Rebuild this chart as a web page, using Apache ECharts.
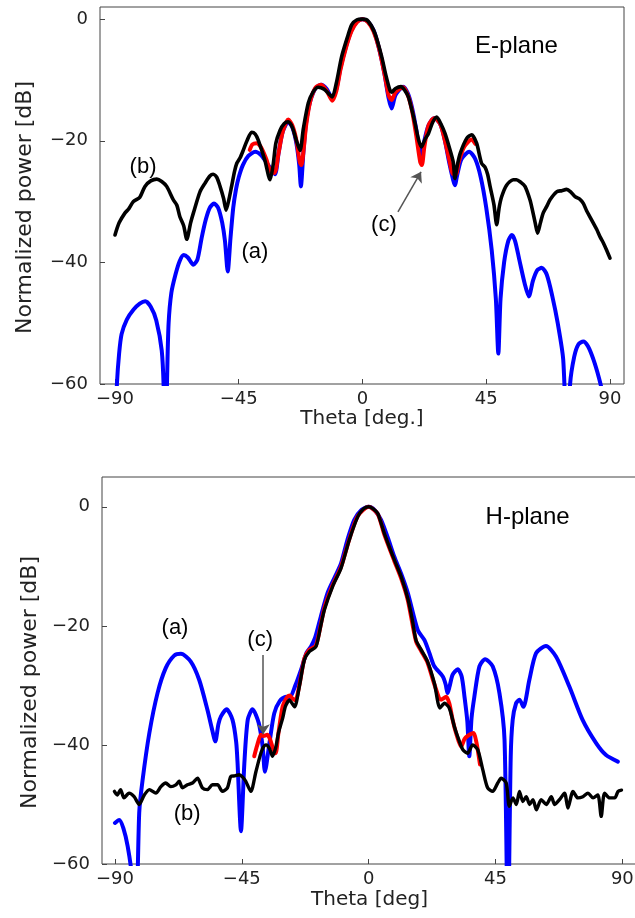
<!DOCTYPE html>
<html>
<head>
<meta charset="utf-8">
<script src="https://cdn.jsdelivr.net/npm/echarts@6/dist/echarts.min.js"></script>
<style>
html,body{margin:0;padding:0;background:#fff;}
#chart{width:635px;height:918px;}
</style>
</head>
<body>
<div id="chart"></div>
<script>
// ---------- tick labels ----------
const xTicks = [-90, -45, 0, 45, 90];
const yTicks = [-60, -40, -20, 0];

// ---------- E-plane: (a) simulation ----------
const eSimTheta = [-90,-89.3,-88.5,-87.6,-85.7,-83.3,-81,-79,-77,-75,-73,-72.2,-71.8,-71,-70.5,-69.5,-68,-66.5,-65,-63.5,-61.5,-60,-58.5,-57,-55.5,-54,-52.5,-51,-50,-49,-48,-47,-46,-45,-43.5,-41.5,-39,-37,-35,-33,-31.8,-30.5,-29,-27,-25.5,-24,-23,-22.4,-21.5,-20.5,-19,-17,-15,-13,-11,-9.5,-8,-6,-4,-2,0,2,4,6,8,9.5,10.6,12,14.8,16.5,18,19.5,20.5,21.5,22.5,24,26,27,28.5,30,31.5,33,33.6,34.5,36,38.8,41,43,45,47,48.5,49.4,50.2,51.5,53,54.3,55.5,57,59,60.5,62,63.5,65.2,67,69,71,73,74.5,75.5,77,78.5,80.3,82,84,86,87,88,90];
const eSimDb    = [-68,-60,-55,-51.8,-49.4,-47.8,-46.8,-46.4,-47.3,-49.5,-54.5,-62,-75,-58,-50,-45,-42,-39.8,-38.8,-39.2,-40.4,-39.5,-36,-33,-31,-30.3,-31,-33.5,-36.5,-41.5,-36,-31,-28,-26,-24,-22.5,-21.8,-22.3,-23.5,-24.8,-25.5,-22,-18.5,-16.9,-17.8,-20.5,-24,-27.5,-22,-17,-13.5,-11.3,-10.8,-11.5,-13,-11.5,-8,-4.5,-1.8,-0.4,0,-0.4,-1.8,-4.8,-9,-13,-14.7,-12.5,-11.1,-12.2,-14.5,-18,-21,-22.6,-20,-17.5,-16.3,-16.5,-17.5,-20,-23.5,-26.5,-27.3,-25.5,-23,-21.8,-23,-26,-31,-38,-46,-55,-46,-40,-36.5,-35.5,-36.5,-39.5,-43.5,-45.6,-43,-41.3,-40.9,-42,-45.5,-50,-56,-72,-60,-55.5,-53.5,-53,-53.8,-56,-59,-61,-66,-70];

// ---------- E-plane: (c) ----------
const eCTheta = [-41,-40,-38.5,-37,-35,-33.5,-32,-30.5,-29,-27,-25.5,-24,-22.8,-22.2,-21.3,-20.5,-19,-17,-15,-13,-11,-9.5,-8,-6,-4,-2,0,2,4,6,8,9.5,10.6,12,14.8,16.5,18,19.5,21,21.6,22.5,24,26,27,28.5,30,31.5,33,34,35,37,39.7,41];
const eCDb    = [-21.5,-20.6,-20.4,-21,-23,-25,-25.3,-22,-18.5,-16.5,-17.5,-20,-23.5,-24,-21,-17.5,-13.5,-11.2,-10.8,-11.8,-13.4,-11.8,-8.3,-4.7,-2,-0.5,0,-0.5,-2,-4.8,-9,-12.5,-13.3,-12,-11.2,-12.5,-15,-19,-23.5,-24,-21,-17.5,-16.3,-16.5,-17.5,-20,-23,-25.5,-25.5,-23.5,-21,-19.8,-20.5];

// ---------- E-plane: (b) measurement ----------
const eMeasTheta = [-90,-88.5,-86.4,-85,-83.3,-81,-79.1,-77,-74.8,-73,-71.2,-68.8,-67.5,-66.4,-65,-63.9,-62.5,-61.5,-59.1,-57.3,-55.5,-54.3,-53,-51.8,-50.5,-49.6,-48.5,-47.6,-46.5,-45.7,-44.5,-43.3,-42,-40.3,-39,-37.9,-35.5,-33.6,-32.5,-31.5,-30,-28.5,-27,-25.5,-24,-22.7,-21.5,-19.7,-18,-16.1,-14,-12.4,-11,-9.5,-7.6,-5.5,-3.9,-2,0,2,4.5,7,8.5,10,10.6,12,14,15.5,16.7,18,19.1,20.5,21.5,22.7,24,25.5,27,28.5,30,31.5,33,33.6,34.5,35.5,37.9,39.7,41.5,43.3,44.5,45.5,46.4,47.8,48.8,49.7,50.6,52.4,54.8,56,57.5,59.1,60.9,61.8,62.8,63.7,64.7,65.7,67,68.2,70.6,72.5,74.2,75.7,77.3,79,80.3,81.5,82.7,84,85.2,86.4,87.6,88.8,90];
const eMeasDb    = [-35.5,-33.5,-31.9,-31.2,-30,-29.3,-27.5,-26.6,-26.3,-26.7,-27.5,-29.7,-30.6,-32.5,-34,-36.2,-33.5,-31.9,-28.4,-27,-25.8,-25.5,-26,-27.5,-29.5,-31.4,-29.5,-27.5,-25,-23.7,-22.8,-21.5,-20,-18.6,-18.9,-19.9,-23.2,-26.4,-24,-20.4,-18.3,-17.2,-16.9,-17.8,-20,-21.6,-18,-13.8,-12,-11.2,-11.5,-12.2,-12.8,-10.5,-6.2,-3,-0.9,-0.1,0,-0.3,-2.3,-6.2,-9.2,-11.7,-12,-11.4,-11.1,-11.8,-12.8,-15,-17.1,-20,-21,-19.8,-18.8,-17,-16.1,-17.2,-18.8,-21,-23.5,-26.2,-24,-22.1,-19.6,-19,-20.4,-23.7,-24.3,-25.5,-27.5,-30.5,-33.8,-31,-29.2,-27.3,-26.4,-26.4,-26.8,-27.5,-29.7,-31.4,-33.5,-35.2,-33.5,-31.9,-30.8,-29.7,-28.4,-28.2,-28,-28.4,-29.2,-29.6,-30.3,-31.5,-32.5,-33.6,-34.6,-35.8,-36.8,-38,-39.3];

// ---------- H-plane: (a) simulation ----------
const hSimTheta = [-90,-88.5,-87,-85.5,-84,-82.6,-81.4,-80.2,-77.8,-74.9,-72,-69,-66.6,-63.1,-60.1,-57.2,-55.5,-54.4,-53.3,-52.4,-50.4,-48.3,-47,-46.5,-45.3,-44.1,-42.9,-41.2,-39,-37.6,-36.8,-35.2,-33.5,-31.5,-29.3,-28.2,-26,-24,-22,-20.5,-19,-17,-14.6,-12,-9.8,-7.5,-5.1,-2.5,0,2.2,4.4,6.8,9.1,11.5,13.9,17.4,19.8,21.5,23.3,26.3,27.3,28,28.7,29.8,31.6,33,34,35,35.7,36.5,37.5,39.3,41.3,44,46.4,48.2,49.4,50.4,51.1,52.3,53.5,54.9,57,59.4,62.9,66.5,71.2,75.9,80.7,84.2,88.4];
const hSimDb    = [-53.1,-52.6,-54,-57,-62,-72,-51.4,-45.9,-38,-31.3,-27.1,-25,-24.7,-26,-29.1,-34.1,-37.5,-39.4,-36.5,-35.2,-34,-35.8,-39.5,-43.1,-54.5,-43.1,-35.8,-34,-36.3,-40.3,-44.5,-39.7,-34.7,-32.6,-31.9,-32.2,-30,-27.4,-24.5,-23.5,-22,-18.5,-14.5,-11.8,-9.5,-5.5,-2.2,-0.5,0,-0.6,-2.2,-5.2,-8.4,-11.2,-14.5,-20.7,-22.4,-24.5,-26.8,-28.5,-29.8,-31.3,-30.2,-28.2,-27.3,-28.5,-31.9,-36,-41.9,-35.5,-31.9,-26.8,-25.6,-26.8,-31.3,-39.1,-72,-42,-35.8,-33,-32.4,-33.6,-29.1,-24.6,-23.4,-25.2,-30.2,-35.8,-39.7,-41.7,-42.8];

// ---------- H-plane: (c) ----------
const hCTheta = [-40.6,-39.5,-38.2,-37.3,-36,-35,-34,-33,-32,-30.5,-29,-28.1,-27,-26,-24.6,-22.8,-21,-18.7,-15.7,-12.8,-9.8,-6.9,-3.9,0,3.2,5.6,9.1,11.5,13.9,16.8,18.6,20.9,23.3,25.7,27.5,28.6,29.8,31,32.8,34,35.1,37.2,38.2,39.5];
const hCDb    = [-41.9,-40,-38.3,-38.5,-38.3,-39,-40.5,-41.4,-38,-33.5,-32,-31.7,-32.2,-32.5,-30,-25.5,-24,-23.3,-17,-13.2,-10.1,-5.5,-1.6,0,-1.2,-4.7,-9.1,-12,-15.7,-22.6,-24.2,-26.2,-29.8,-32.4,-31.9,-33,-35.8,-38,-40.3,-39,-38.5,-38,-39.5,-43.3];

// ---------- H-plane: (b) measurement ----------
const hMeasTheta = [-90.2,-89.2,-88,-86.8,-85,-83.2,-81.4,-79.6,-77.8,-75.5,-73.7,-72,-70.2,-68.4,-67.2,-66.1,-64.3,-62.5,-60.7,-59,-57.2,-55.4,-53.6,-51.9,-50.1,-48.9,-47.5,-45.9,-44.7,-43.6,-41.8,-40,-38.5,-37.5,-36.4,-35.2,-34.1,-33,-32,-30.5,-29.5,-28.1,-26.3,-24.6,-22.8,-21,-18.7,-17,-15.7,-12.8,-9.8,-6.9,-3.9,-2,0,1.5,3.2,5.6,9.1,11.5,13.9,15.5,16.8,18.6,20.9,23.3,25.3,26.9,28.6,30.4,31.5,33.4,35.1,36.9,38.7,40.5,42.2,44,45.8,47,48.8,49.9,51.2,52.4,53.5,54.7,55.9,57.1,58.3,59.5,61.2,63,64.8,66,67.7,69.5,70.7,72.5,74.2,76,77.8,79.6,81.3,82.5,83.7,85.5,87.3,88.5,89.7];
const hMeasDb    = [-47.8,-48.4,-47.5,-48.9,-48.1,-48.7,-50,-48.4,-47.5,-48.1,-47,-46.4,-47,-46.7,-46.1,-47.2,-46.7,-46.4,-45.6,-47.2,-47.5,-46.7,-46.7,-47.8,-47.2,-45.3,-45.2,-45,-45.4,-46.1,-47.8,-44.5,-41.8,-40.5,-40,-40.6,-41.9,-40.5,-38,-35.5,-33.5,-32.5,-33.6,-30.2,-25.7,-24.3,-23.5,-20,-17.3,-13.4,-10.3,-5.6,-1.7,-0.4,0,-0.3,-1.1,-4.5,-8.9,-11.7,-15.4,-19,-22.4,-24,-26,-29.6,-33.8,-33,-33.8,-36.9,-38.5,-40.8,-41.4,-40,-40.8,-44.2,-47.2,-47.8,-46.4,-45.6,-46.4,-50.3,-48.9,-50,-47.8,-49.5,-48.7,-50,-49.2,-50.9,-49.2,-50,-48.7,-50,-49.2,-48.1,-50.6,-47.8,-48.9,-48.7,-48.1,-48.9,-48.4,-52,-48.1,-48.9,-48.9,-47.8,-47.6];

// ---------- annotations (data coordinates) ----------
const eLabels = [
  {text: 'E-plane', x: 56, y: -4.5, size: 24},
  {text: '(b)', x: -79.8, y: -24.3, size: 22},
  {text: '(a)', x: -39.1, y: -38.3, size: 22},
  {text: '(c)', x: 7.8, y: -33.8, size: 22}
];
const eArrow = [[12.9, -31.7], [21.3, -25.1]];
const hLabels = [
  {text: 'H-plane', x: 56.4, y: -1.8, size: 24},
  {text: '(a)', x: -68.7, y: -20.4, size: 22},
  {text: '(b)', x: -64.4, y: -51.6, size: 22},
  {text: '(c)', x: -38.5, y: -22.4, size: 22}
];
const hArrow = [[-37.4, -24.9], [-37.4, -38.2]];

const zip = (a, b) => a.map((v, i) => [v, b[i]]);
const minus = v => String(v).replace('-', '\u2212');

const frame = '#444';
function xAxis(gridIndex, min, max, name, gap) {
  return {
    type: 'value', gridIndex, min, max, name, nameLocation: 'middle', nameGap: gap,
    nameTextStyle: {fontFamily: 'DejaVu Sans', fontSize: 20, color: '#222'},
    axisLine: {show: false, onZero: false}, splitLine: {show: false},
    axisTick: {inside: true, length: 5, lineStyle: {color: frame}, customValues: xTicks},
    axisLabel: {customValues: xTicks, formatter: minus, fontFamily: 'DejaVu Sans', fontSize: 18, color: '#222', margin: 6}
  };
}
function yAxis(gridIndex, max, gap) {
  return {
    type: 'value', gridIndex, min: -60, max, name: 'Normalized power [dB]',
    nameLocation: 'middle', nameGap: gap,
    nameTextStyle: {fontFamily: 'DejaVu Sans', fontSize: 22, color: '#222', padding: [0, 24, 0, 0]},
    axisLine: {show: false, onZero: false}, splitLine: {show: false},
    axisTick: {inside: true, length: 5, lineStyle: {color: frame}, customValues: yTicks},
    axisLabel: {customValues: yTicks, formatter: minus, fontFamily: 'DejaVu Sans', fontSize: 18, color: '#222', margin: 12}
  };
}
function line(idx, data, color, width, z) {
  return {
    type: 'line', xAxisIndex: idx, yAxisIndex: idx, data, showSymbol: false, symbol: 'none',
    smooth: 0.25, clip: true, z,
    lineStyle: {color, width, cap: 'round', join: 'round'}
  };
}
function notes(idx, labels, arrow) {
  return {
    type: 'line', xAxisIndex: idx, yAxisIndex: idx, data: [], z: 10,
    markPoint: {
      symbol: 'circle', symbolSize: 1, silent: true, animation: false,
      itemStyle: {color: 'rgba(0,0,0,0)'},
      data: labels.map(l => ({
        name: l.text, coord: [l.x, l.y],
        label: {show: true, position: 'inside', formatter: l.text, color: '#000',
                fontFamily: 'Liberation Sans', fontSize: l.size}
      }))
    },
    markLine: {
      silent: true, animation: false, symbol: ['none', 'arrow'], symbolSize: 10,
      label: {show: false},
      lineStyle: {color: '#555', width: 1.5, type: 'solid'},
      data: [[{coord: arrow[0]}, {coord: arrow[1]}]]
    }
  };
}

const chart = echarts.init(document.getElementById('chart'), null, {renderer: 'canvas'});
chart.setOption({
  animation: false,
  backgroundColor: '#fff',
  grid: [
    {left: 100, top: 7, right: 11, height: 377, show: true, borderColor: frame, borderWidth: 1, backgroundColor: 'transparent', outerBoundsMode: 'none'},
    {left: 102, top: 477, right: -2, height: 387, show: true, borderColor: frame, borderWidth: 1, backgroundColor: 'transparent', outerBoundsMode: 'none'}
  ],
  xAxis: [
    xAxis(0, -95.45, 95.1, 'Theta [deg.]', 25),
    xAxis(1, -94.6, 95.2, 'Theta [deg]', 26)
  ],
  yAxis: [
    yAxis(0, 2, 64),
    yAxis(1, 5, 58)
  ],
  series: [
    line(0, zip(eSimTheta, eSimDb), '#0000ff', 4, 2),
    line(0, zip(eCTheta, eCDb), '#ff0000', 4, 3),
    line(0, zip(eMeasTheta, eMeasDb), '#000000', 3.6, 4),
    line(1, zip(hSimTheta, hSimDb), '#0000ff', 4, 2),
    line(1, zip(hCTheta, hCDb), '#ff0000', 4, 3),
    line(1, zip(hMeasTheta, hMeasDb), '#000000', 3.4, 4),
    notes(0, eLabels, eArrow),
    notes(1, hLabels, hArrow)
  ]
});
</script>
</body>
</html>
